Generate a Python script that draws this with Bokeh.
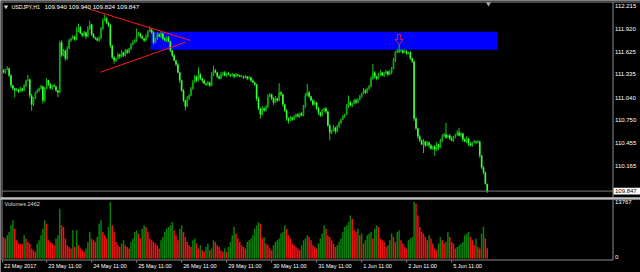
from bokeh.core.properties import value
from bokeh.embed import file_html
from bokeh.layouts import column
from bokeh.models import ColumnDataSource, Range1d
from bokeh.plotting import figure
from bokeh.resources import INLINE

# ---------------------------------------------------------------- data
SYMBOL = "USDJPY,H1"
FIRST_OPEN = 111.386

# hourly closes, one per bar (bar 0 = 22 May 12:00)
close = [
    111.360, 111.399, 111.411, 111.322, 111.194, 111.156, 111.131, 111.143, 111.118, 111.156,
    111.131, 111.194, 111.258, 111.271, 111.067, 110.952, 111.029, 111.105, 111.131, 111.156,
    111.182, 111.003, 111.156, 111.258, 111.207, 111.156, 111.194, 111.182, 111.131, 111.105,
    111.743, 111.577, 111.641, 111.539, 111.667, 111.769, 111.794, 111.820, 111.781, 111.896,
    111.934, 111.858, 111.832, 111.871, 111.820, 111.922, 111.973, 111.845, 111.807, 111.794,
    111.769, 111.794, 111.922, 112.024, 112.049, 111.998, 111.960, 111.705, 111.552, 111.513,
    111.539, 111.590, 111.564, 111.615, 111.577, 111.641, 111.615, 111.667, 111.718, 111.743,
    111.769, 111.832, 111.858, 111.820, 111.794, 111.769, 111.820, 111.883, 111.909, 111.871,
    111.743, 111.794, 111.845, 111.820, 111.858, 111.794, 111.769, 111.807, 111.756, 111.641,
    111.577, 111.513, 111.462, 111.360, 111.258, 111.131, 111.003, 110.926, 111.029, 111.067,
    111.156, 111.233, 111.309, 111.258, 111.335, 111.284, 111.258, 111.220, 111.207, 111.233,
    111.194, 111.335, 111.386, 111.360, 111.309, 111.284, 111.335, 111.360, 111.322, 111.348,
    111.335, 111.322, 111.335, 111.309, 111.335, 111.322, 111.309, 111.309, 111.296, 111.309,
    111.284, 111.296, 111.258, 111.233, 111.207, 111.029, 110.901, 110.824, 110.901, 110.875,
    110.926, 111.054, 111.080, 111.029, 110.977, 111.029, 111.003, 111.105, 111.080, 110.952,
    110.875, 110.773, 110.748, 110.786, 110.761, 110.799, 110.824, 110.799, 110.837, 110.812,
    110.926, 111.067, 111.105, 111.054, 111.003, 110.952, 110.977, 110.901, 110.850, 110.812,
    110.875, 110.901, 110.863, 110.684, 110.595, 110.620, 110.658, 110.607, 110.671, 110.722,
    110.761, 110.799, 110.824, 110.926, 110.977, 110.939, 110.965, 111.003, 110.977, 111.016,
    111.054, 111.092, 111.131, 111.105, 111.156, 111.182, 111.284, 111.360, 111.309, 111.284,
    111.335, 111.360, 111.322, 111.348, 111.373, 111.335, 111.360, 111.411, 111.513, 111.615,
    111.641, 111.628, 111.641, 111.615, 111.628, 111.603, 111.615, 111.539, 111.501, 110.773,
    110.646, 110.544, 110.493, 110.442, 110.480, 110.429, 110.467, 110.429, 110.391, 110.416,
    110.378, 110.442, 110.403, 110.493, 110.544, 110.569, 110.531, 110.556, 110.518, 110.493,
    110.531, 110.569, 110.595, 110.556, 110.582, 110.505, 110.480, 110.518, 110.454, 110.429,
    110.467, 110.480, 110.467, 110.480, 110.301, 110.148, 110.084, 109.940, 109.847,
]

# wick lengths above / below the body, in pips (0.01 JPY)
upper_wick_pips = [
    2, 1, 3, 1, 2, 1, 1, 2, 1, 2,   1, 2, 1, 6, 1, 2, 2, 1, 2, 1,
    2, 1, 2, 3, 1, 2, 1, 2, 1, 1,   2, 3, 2, 1, 3, 2, 1, 2, 1, 4,
    5, 2, 1, 2, 1, 3, 5, 1, 2, 1,   2, 3, 2, 3, 5, 2, 1, 2, 1, 2,
    1, 2, 1, 3, 1, 2, 2, 1, 2, 3,   2, 9, 2, 1, 2, 1, 3, 2, 4, 1,
    2, 1, 3, 2, 2, 1, 2, 1, 2, 1,   1, 2, 1, 2, 1, 1, 2, 1, 3, 2,
    2, 3, 2, 1, 9, 2, 1, 2, 1, 2,   1, 3, 6, 2, 1, 2, 3, 1, 2, 1,
    2, 1, 2, 1, 2, 1, 1, 2, 1, 2,   1, 2, 1, 2, 1, 1, 2, 1, 3, 2,
    2, 3, 2, 1, 2, 3, 1, 12, 2, 1,  1, 2, 1, 2, 1, 2, 1, 2, 1, 2,
    2, 3, 11, 2, 1, 2, 3, 1, 2, 1,  2, 1, 2, 1, 2, 1, 3, 1, 2, 2,
    1, 2, 1, 3, 9, 2, 1, 2, 3, 1,   2, 1, 3, 2, 1, 2, 3, 11, 2, 1,
    2, 3, 1, 2, 2, 1, 3, 2, 3, 2,   2, 8, 2, 1, 3, 2, 1, 2, 1, 1,
    2, 1, 2, 1, 3, 1, 2, 1, 2, 1,   2, 3, 1, 2, 3, 2, 15, 1, 2, 3,
    2, 1, 3, 6, 2, 1, 2, 3, 1, 2,   1, 2, 1, 2, 1, 1, 2, 1, 0,
]
lower_wick_pips = [
    1, 2, 1, 2, 3, 2, 9, 1, 2, 1,   2, 1, 2, 1, 3, 8, 2, 1, 1, 2,
    1, 4, 2, 1, 2, 1, 2, 1, 2, 6,   1, 2, 1, 3, 2, 1, 2, 1, 2, 1,
    2, 1, 2, 1, 3, 1, 2, 2, 1, 2,   1, 2, 1, 2, 1, 2, 2, 3, 2, 4,
    2, 1, 3, 1, 2, 1, 2, 1, 2, 1,   1, 2, 1, 2, 1, 2, 1, 2, 1, 2,
    3, 1, 2, 1, 2, 2, 1, 2, 1, 2,   2, 1, 2, 1, 3, 2, 2, 5, 1, 2,
    1, 2, 1, 2, 1, 2, 3, 1, 2, 1,   2, 1, 2, 1, 2, 1, 1, 2, 1, 2,
    1, 2, 1, 2, 1, 2, 1, 1, 2, 1,   2, 1, 2, 1, 2, 3, 2, 5, 1, 2,
    1, 2, 1, 2, 3, 1, 2, 1, 2, 3,   2, 3, 4, 1, 2, 1, 2, 1, 2, 1,
    1, 2, 1, 2, 1, 2, 1, 2, 3, 2,   1, 2, 3, 2, 10, 2, 1, 3, 1, 2,
    2, 1, 2, 1, 2, 1, 2, 1, 2, 1,   1, 2, 1, 2, 1, 2, 1, 2, 3, 2,
    1, 2, 1, 2, 1, 2, 1, 2, 1, 2,   1, 2, 1, 2, 1, 2, 1, 2, 2, 3,
    2, 3, 2, 1, 11, 2, 1, 3, 2, 2,  8, 2, 3, 1, 2, 1, 2, 1, 2, 1,
    2, 1, 2, 1, 2, 3, 1, 2, 3, 1,   2, 1, 2, 1, 3, 2, 2, 1, 2.3,
]

# tick volume per bar
volume = [
    5230, 4830, 5640, 6440, 8050, 9260, 7250, 4430, 3620, 3580, 3540, 5640, 4830, 4030, 3620, 2420,
    2010, 1610, 3620, 4430, 5640, 7250, 9260, 8450,
    4430, 4030, 3620, 3220, 4830, 5640, 12080, 8050, 7650, 4830, 3220, 2820, 2420, 6840, 2820, 6840,
    3220, 2420, 2010, 1610, 2420, 4030, 6440, 4830,
    4430, 4030, 5230, 8450, 9260, 6440, 5640, 4830, 7650, 13690, 8050, 6440, 4030, 3220, 2820, 3620,
    4430, 3220, 2820, 2420, 4030, 4830, 6440, 6840,
    6040, 4830, 7250, 8050, 7650, 6440, 4830, 4430, 4030, 3620, 3220, 2420, 4430, 5230, 6440, 7250,
    7650, 8050, 8860, 6840, 5640, 4430, 7250, 8050,
    6440, 5230, 4030, 3220, 2820, 4430, 4830, 3620, 2420, 3220, 2010, 1610, 2820, 3620, 2010, 2420,
    4430, 4030, 3220, 2820, 2010, 1610, 2420, 1610,
    2820, 4030, 5640, 7650, 6040, 4830, 4030, 3220, 2820, 2420, 4030, 4430, 4830, 5640, 7250, 8050,
    8860, 8450, 4830, 5230, 3620, 3220, 2420, 2010,
    3220, 4030, 4430, 4830, 6040, 6440, 8050, 7250, 5640, 4830, 3620, 3220, 2820, 2420, 2010, 3220,
    4430, 4830, 5640, 5230, 4430, 3220, 2820, 2420,
    3620, 4830, 6040, 8050, 7250, 5640, 5230, 4430, 3620, 2820, 3220, 4030, 4830, 6440, 7650, 8050,
    8860, 10470, 9660, 6840, 6440, 7250, 5640, 6040,
    3620, 4430, 5640, 6040, 6440, 4830, 7250, 8050, 7650, 4830, 4430, 4030, 2820, 3220, 4430, 6040,
    5230, 4030, 6440, 6840, 4430, 3620, 2820, 2420,
    4430, 4830, 5230, 13767, 13360, 10470, 7650, 6440, 6040, 5230, 4430, 5640, 4830, 3620, 2420, 2010,
    3620, 5230, 4430, 3620, 4030, 6440, 5230, 4030,
    3620, 2420, 2820, 3220, 3620, 4030, 5640, 6040, 6440, 5230, 4430, 3220, 4830, 2820, 2420, 6040,
    7730, 4830, 2462,
]

price_ticks = [112.215, 111.920, 111.625, 111.335, 111.040, 110.750, 110.455, 110.165]
volume_ticks = [13767, 0]
time_ticks = [-0.5, 23, 47, 71, 95, 119, 143, 167, 191, 215, 239]
time_labels = ["22 May 2017", "23 May 11:00", "24 May 11:00", "25 May 11:00", "26 May 11:00",
               "29 May 11:00", "30 May 11:00", "31 May 11:00", "1 Jun 11:00", "2 Jun 11:00",
               "5 Jun 11:00"]

# chart objects: resistance zone, converging trend lines, sell signal
zone_bars = [78.5, 263.5]
zone_prices = [111.650, 111.879]
upper_line_bars = [45.5, 99.7]
upper_line_prices = [112.173, 111.769]
lower_line_bars = [51.7, 97.1]
lower_line_prices = [111.364, 111.747]
signal_bar = 211
signal_price = 111.714

# ---------------------------------------------------------------- derived series
n = len(close)
bars = list(range(n))
opens = [FIRST_OPEN] + close[:-1]
highs = [max(o, c) + u * 0.01 for o, c, u in zip(opens, close, upper_wick_pips)]
lows = [min(o, c) - d * 0.01 for o, c, d in zip(opens, close, lower_wick_pips)]
last_o, last_h, last_l, last_c = opens[-1], highs[-1], lows[-1], close[-1]

# ---------------------------------------------------------------- style
BULL_BODY = "#0caa0c"
BEAR_BODY = "#3cff3c"
WICK = "#18c818"
VOL_UP = "#0a800a"
VOL_DOWN = "#f21212"
FG = "#ffffff"
FRAME = "#8e8e8e"
SEPARATOR = "#c2c2c2"
FONT = value("Liberation Sans")

# screen geometry of the terminal window (pixels), mapped into data units
BAR_PX = 1.875          # horizontal pixels per bar
BAR0_PX = 3.0           # x pixel of bar 0
PRICE_PX = 0.01276      # price per vertical pixel
PRICE_TOP = 112.279     # price at the top pixel row
VOL_BASE_PX = 59.0      # volume zero line, pixels from the top of the volume pane
VOL_PX = 242.81         # volume per vertical pixel


def bx(px):
    return (px - BAR0_PX) / BAR_PX


def py(px):
    return PRICE_TOP - px * PRICE_PX


def vy(px):
    return (VOL_BASE_PX - px) * VOL_PX


LEFT, SCALE, RIGHT = 1.5, 612.5, 640.0
x_range = Range1d(bx(0), bx(RIGHT))

candles = ColumnDataSource(dict(
    x=bars,
    top=[max(o, c) for o, c in zip(opens, close)],
    bottom=[min(o, c) for o, c in zip(opens, close)],
    high=highs,
    low=lows,
    body=[BULL_BODY if c > o else BEAR_BODY for o, c in zip(opens, close)],
))
vol_colors = [VOL_DOWN] + [VOL_UP if volume[i] > volume[i - 1] else VOL_DOWN for i in range(1, n)]
vols = ColumnDataSource(dict(x=bars, top=volume, color=vol_colors))


def pane(height, y_range):
    f = figure(width=640, height=height, x_range=x_range, y_range=y_range,
               x_axis_location=None, y_axis_location=None, toolbar_location=None,
               output_backend="svg", min_border=0, min_border_left=0, min_border_right=0,
               min_border_top=0, min_border_bottom=0)
    f.background_fill_color = "black"
    f.border_fill_color = "black"
    f.outline_line_color = None
    f.grid.visible = False
    return f


# ---------------------------------------------------------------- price pane
P_H = 199
p = pane(P_H, Range1d(py(P_H), py(0)))

p.quad(left=[zone_bars[0]], right=[zone_bars[1]], bottom=[zone_prices[0]], top=[zone_prices[1]],
       fill_color="#0000ff", line_color=None)

p.segment(x0="x", y0="low", x1="x", y1="high", source=candles, line_color=WICK, line_width=1)
p.vbar(x="x", top="top", bottom="bottom", width=0.88, source=candles,
       fill_color="body", line_color=None)

p.line(upper_line_bars, upper_line_prices, line_color="#ff1a1a", line_width=1)
p.line(lower_line_bars, lower_line_prices, line_color="#ff1a1a", line_width=1)

# hollow down arrow: stem above, head pointing at the signal price
sx, hx = 1.6 / BAR_PX, 4.0 / BAR_PX
head, stem = 5.3 * PRICE_PX, 10.3 * PRICE_PX
arrow_x = [signal_bar - sx, signal_bar + sx, signal_bar + sx, signal_bar + hx, signal_bar,
           signal_bar - hx, signal_bar - sx]
arrow_y = [signal_price + stem, signal_price + stem, signal_price + head, signal_price + head,
           signal_price, signal_price + head, signal_price + head]
p.patch(arrow_x, arrow_y, fill_alpha=0, line_color="#e8193f", line_width=1)

# bid line
p.segment(x0=[bx(LEFT)], y0=[last_c], x1=[bx(SCALE)], y1=[last_c], line_color="#7a7a7a")

# window frame: top edge, left edge, price scale line, pane separator
p.segment(x0=[bx(0), bx(LEFT), bx(SCALE)], y0=[py(1.5), py(1.5), py(1.5)],
          x1=[bx(RIGHT), bx(LEFT), bx(SCALE)], y1=[py(1.5), py(P_H), py(P_H)],
          line_color=FRAME, line_width=1)
p.quad(left=[bx(0)], right=[bx(RIGHT)], bottom=[py(P_H)], top=[py(196.7)],
       fill_color=SEPARATOR, line_color=None)

# price scale
p.text(x=[bx(614.5)] * len(price_ticks), y=price_ticks, text=[f"{t:.3f}" for t in price_ticks],
       text_color=FG, text_font=FONT, text_font_size="6px", text_align="left",
       text_baseline="middle")
p.quad(left=[bx(SCALE + 0.5)], right=[bx(RIGHT)], bottom=[last_c - 3.3 * PRICE_PX],
       top=[last_c + 3.3 * PRICE_PX], fill_color="white", line_color=None)
p.text(x=[bx(614.5)], y=[last_c], text=[f"{last_c:.3f}"], text_color="black", text_font=FONT,
       text_font_size="6px", text_align="left", text_baseline="middle")

# chart caption and window markers
p.scatter(x=[bx(5.5)], y=[py(6.2)], marker="inverted_triangle", size=4.5,
          fill_color="#d8d8d8", line_color=None)
p.text(x=[bx(11)], y=[py(6.2)], text=[SYMBOL], text_color=FG, text_font=FONT,
       text_font_size="5.3px", text_align="left", text_baseline="middle")
p.text(x=[bx(44)], y=[py(6.2)],
       text=[f"{last_o:.3f}  {last_h:.3f}  {last_l:.3f}  {last_c:.3f}"],
       text_color=FG, text_font=FONT, text_font_size="6.2px", text_align="left",
       text_baseline="middle")
p.scatter(x=[bx(488)], y=[py(3.2)], marker="inverted_triangle", size=5,
          fill_color="#a8a8a8", line_color=None)

# ---------------------------------------------------------------- volume pane
V_H = 73
v = pane(V_H, Range1d(vy(V_H), vy(0)))

v.vbar(x="x", top="top", bottom=0, width=0.8, source=vols, fill_color="color", line_color=None)

# frame: left edge, scale line, time axis line
v.segment(x0=[bx(LEFT), bx(SCALE), bx(LEFT)], y0=[vy(0), vy(0), vy(60.5)],
          x1=[bx(LEFT), bx(SCALE), bx(SCALE)], y1=[vy(60.5), vy(60.5), vy(60.5)],
          line_color=FRAME, line_width=1)

# volume scale
v.text(x=[bx(614.5)], y=[volume_ticks[0]], text=[str(volume_ticks[0])], text_color=FG,
       text_font=FONT, text_font_size="6px", text_align="left", text_baseline="middle")
v.text(x=[bx(614.5)], y=[volume_ticks[1]], text=[str(volume_ticks[1])], text_color=FG,
       text_font=FONT, text_font_size="6px", text_align="left", text_baseline="bottom")

# time axis ticks and labels
v.segment(x0=time_ticks, y0=[vy(61)] * len(time_ticks), x1=time_ticks,
          y1=[vy(63)] * len(time_ticks), line_color=FRAME, line_width=1)
v.text(x=time_ticks, y=[vy(66.4)] * len(time_ticks), text=time_labels, x_offset=1.5,
       text_color=FG, text_font=FONT, text_font_size="5.6px", text_align="left",
       text_baseline="middle")

v.text(x=[bx(4)], y=[vy(4.7)], text=[f"Volumes {volume[-1]}"], text_color="#dcdcdc",
       text_font=FONT, text_font_size="5.6px", text_align="left", text_baseline="middle")

layout = column(p, v, spacing=0)
open("out.html", "w").write(file_html(layout, INLINE))
